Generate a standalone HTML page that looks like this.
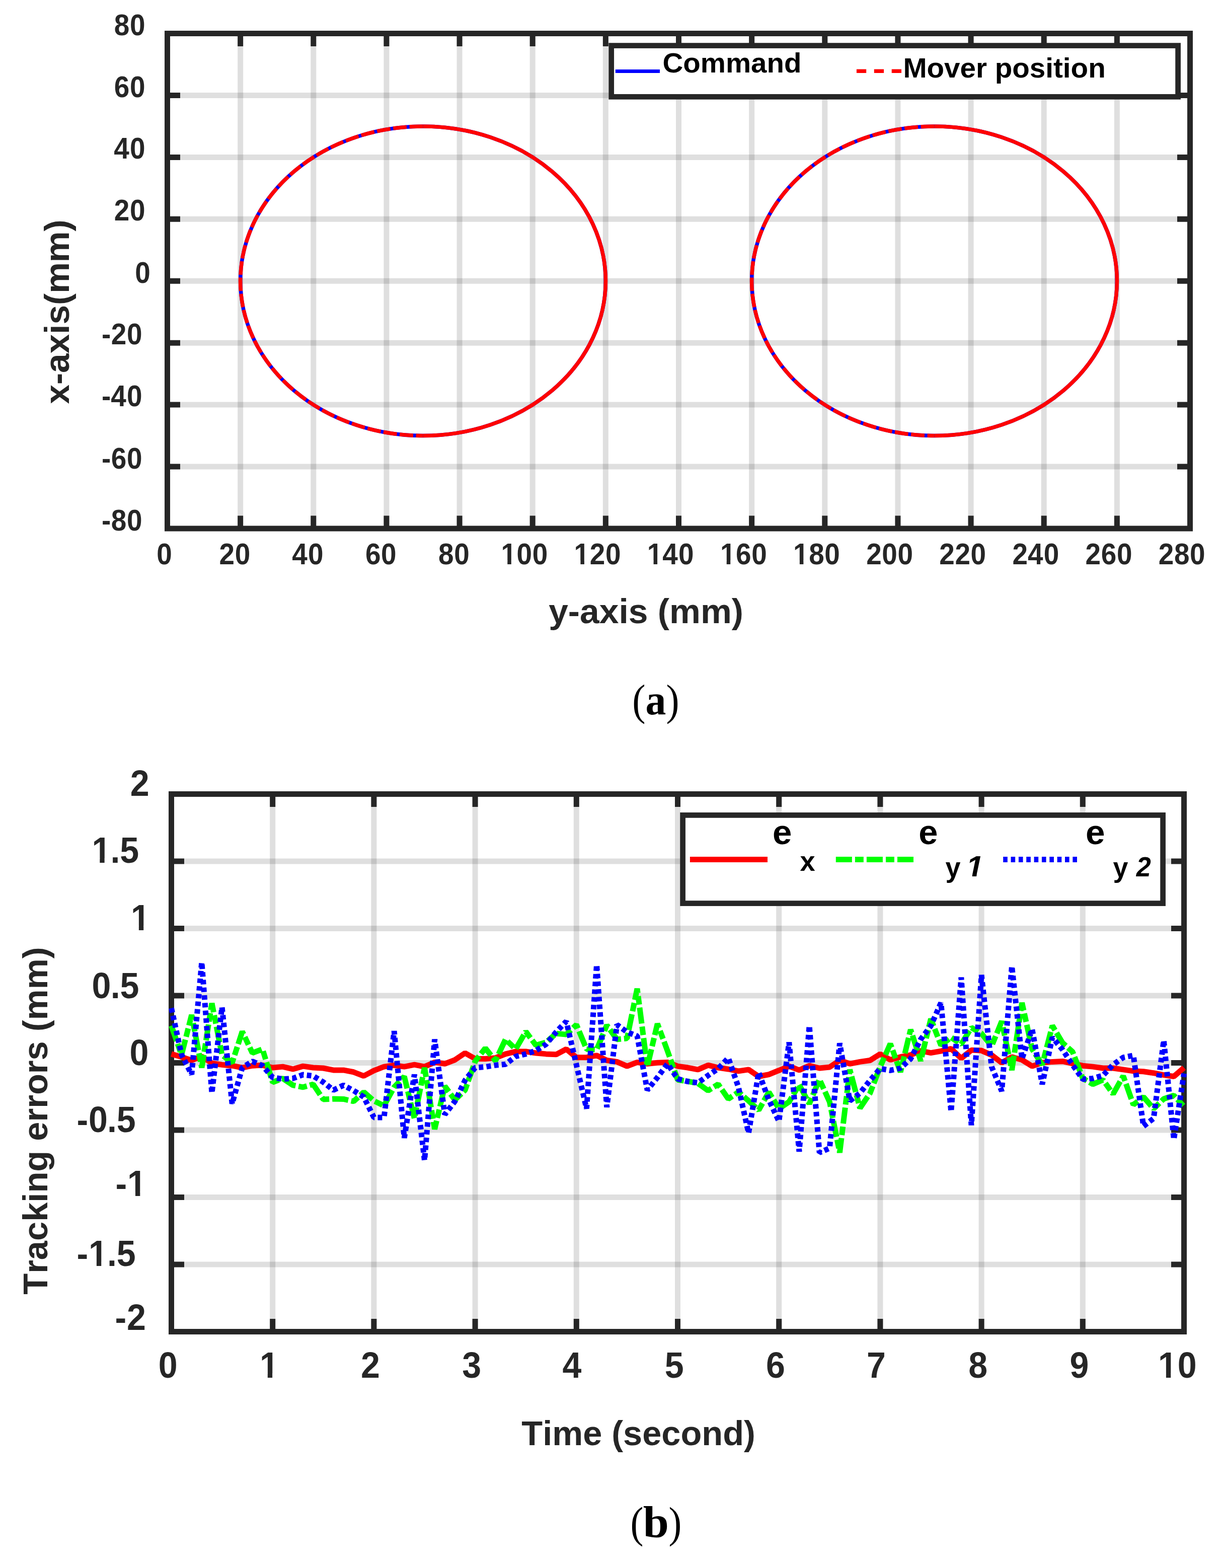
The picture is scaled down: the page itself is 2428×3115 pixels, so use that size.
<!DOCTYPE html>
<html lang="en"><head><meta charset="utf-8"><title>Tracking figure</title>
<style>html,body{margin:0;padding:0;background:#fff}svg{display:block}text{font-kerning:none;white-space:pre}.b{font-family:"Liberation Sans",sans-serif;font-weight:bold}.bi{font-family:"Liberation Sans",sans-serif;font-weight:bold;font-style:italic}.s{font-family:"Liberation Serif",serif}.sb{font-family:"Liberation Serif",serif;font-weight:bold}.g{fill:none;stroke:#262626;stroke-opacity:.15;stroke-width:11}.a{fill:none;stroke:#262626;stroke-width:11}.lg{fill:#fff;stroke:#262626;stroke-width:10.7}.c{fill:none;stroke-width:11;stroke-linejoin:bevel}</style></head>
<body>
<svg width="2428" height="3115" viewBox="0 0 2428 3115">
<rect width="2428" height="3115" fill="#fff"/>
<g id="chart-a">
<path class="g" d="M477.64 66.5V1050.0M622.79 66.5V1050.0M767.93 66.5V1050.0M913.07 66.5V1050.0M1058.21 66.5V1050.0M1203.36 66.5V1050.0M1348.5 66.5V1050.0M1493.64 66.5V1050.0M1638.79 66.5V1050.0M1783.93 66.5V1050.0M1929.07 66.5V1050.0M2074.21 66.5V1050.0M2219.36 66.5V1050.0"/>
<path class="g" d="M332.5 189.44H2364.5M332.5 312.38H2364.5M332.5 435.31H2364.5M332.5 558.25H2364.5M332.5 681.19H2364.5M332.5 804.12H2364.5M332.5 927.06H2364.5"/>
<path class="a" d="M477.64 66.5v25.5M477.64 1050.0v-25.5M622.79 66.5v25.5M622.79 1050.0v-25.5M767.93 66.5v25.5M767.93 1050.0v-25.5M913.07 66.5v25.5M913.07 1050.0v-25.5M1058.21 66.5v25.5M1058.21 1050.0v-25.5M1203.36 66.5v25.5M1203.36 1050.0v-25.5M1348.5 66.5v25.5M1348.5 1050.0v-25.5M1493.64 66.5v25.5M1493.64 1050.0v-25.5M1638.79 66.5v25.5M1638.79 1050.0v-25.5M1783.93 66.5v25.5M1783.93 1050.0v-25.5M1929.07 66.5v25.5M1929.07 1050.0v-25.5M2074.21 66.5v25.5M2074.21 1050.0v-25.5M2219.36 66.5v25.5M2219.36 1050.0v-25.5M332.5 189.44h25.5M2364.5 189.44h-25.5M332.5 312.38h25.5M2364.5 312.38h-25.5M332.5 435.31h25.5M2364.5 435.31h-25.5M332.5 558.25h25.5M2364.5 558.25h-25.5M332.5 681.19h25.5M2364.5 681.19h-25.5M332.5 804.12h25.5M2364.5 804.12h-25.5M332.5 927.06h25.5M2364.5 927.06h-25.5"/>
<rect class="a" x="332.5" y="66.5" width="2032.0" height="983.5"/>
<text class="b" transform="translate(226.76 70) scale(0.9245 1)" font-size="59.36" letter-spacing="0.674" fill="#262626">80</text>
<text class="b" transform="translate(226.76 192.64) scale(0.9245 1)" font-size="59.36" letter-spacing="0.674" fill="#262626">60</text>
<text class="b" transform="translate(226.76 315.27) scale(0.9245 1)" font-size="59.36" letter-spacing="0.674" fill="#262626" dx="-0.61 0.61">40</text>
<text class="b" transform="translate(226.76 437.81) scale(0.9245 1)" font-size="59.36" letter-spacing="0.674" fill="#262626">20</text>
<text class="b" transform="translate(268.18 561.75) scale(0.9245 1)" font-size="59.36" letter-spacing="0.674" fill="#262626">0</text>
<text class="b" transform="translate(201.95 683.69) scale(0.9245 1)" font-size="59.36" letter-spacing="0.674" fill="#262626">-20</text>
<text class="b" transform="translate(201.95 806.62) scale(0.9245 1)" font-size="59.36" letter-spacing="0.674" fill="#262626" dx="0 -0.61 0.61">-40</text>
<text class="b" transform="translate(201.95 930.96) scale(0.9245 1)" font-size="59.36" letter-spacing="0.674" fill="#262626">-60</text>
<text class="b" transform="translate(201.95 1054) scale(0.9245 1)" font-size="59.36" letter-spacing="0.674" fill="#262626">-80</text>
<text class="b" transform="translate(311.19 1120.6) scale(0.9245 1)" font-size="59.36" letter-spacing="0.674" fill="#262626">0</text>
<text class="b" transform="translate(435.62 1120.6) scale(0.9245 1)" font-size="59.36" letter-spacing="0.674" fill="#262626">20</text>
<text class="b" transform="translate(580.76 1120.6) scale(0.9245 1)" font-size="59.36" letter-spacing="0.674" fill="#262626" dx="-0.61 0.61">40</text>
<text class="b" transform="translate(725.91 1120.6) scale(0.9245 1)" font-size="59.36" letter-spacing="0.674" fill="#262626">60</text>
<text class="b" transform="translate(871.05 1120.6) scale(0.9245 1)" font-size="59.36" letter-spacing="0.674" fill="#262626">80</text>
<clipPath id="k1"><path d="M-9 -59.36H110.06V-6.86H-9ZM13.85 -7.66H22V9H13.85ZM33.69 -7.66H67.37V17.81H33.69ZM67.37 -7.66H101.06V17.81H67.37Z"/></clipPath>
<text class="b" transform="translate(995.48 1120.6) scale(0.9245 1)" font-size="59.36" letter-spacing="0.674" fill="#262626" clip-path="url(#k1)">100</text>
<clipPath id="k2"><path d="M-9 -59.36H110.06V-6.86H-9ZM13.85 -7.66H22V9H13.85ZM33.69 -7.66H67.37V17.81H33.69ZM67.37 -7.66H101.06V17.81H67.37Z"/></clipPath>
<text class="b" transform="translate(1140.62 1120.6) scale(0.9245 1)" font-size="59.36" letter-spacing="0.674" fill="#262626" clip-path="url(#k2)">120</text>
<clipPath id="k3"><path d="M-9 -59.36H110.06V-6.86H-9ZM13.85 -7.66H22V9H13.85ZM33.69 -7.66H67.37V17.81H33.69ZM67.37 -7.66H101.06V17.81H67.37Z"/></clipPath>
<text class="b" transform="translate(1285.77 1120.6) scale(0.9245 1)" font-size="59.36" letter-spacing="0.674" fill="#262626" clip-path="url(#k3)" dx="0 -0.61 0.61">140</text>
<clipPath id="k4"><path d="M-9 -59.36H110.06V-6.86H-9ZM13.85 -7.66H22V9H13.85ZM33.69 -7.66H67.37V17.81H33.69ZM67.37 -7.66H101.06V17.81H67.37Z"/></clipPath>
<text class="b" transform="translate(1430.91 1120.6) scale(0.9245 1)" font-size="59.36" letter-spacing="0.674" fill="#262626" clip-path="url(#k4)">160</text>
<clipPath id="k5"><path d="M-9 -59.36H110.06V-6.86H-9ZM13.85 -7.66H22V9H13.85ZM33.69 -7.66H67.37V17.81H33.69ZM67.37 -7.66H101.06V17.81H67.37Z"/></clipPath>
<text class="b" transform="translate(1576.05 1120.6) scale(0.9245 1)" font-size="59.36" letter-spacing="0.674" fill="#262626" clip-path="url(#k5)">180</text>
<text class="b" transform="translate(1721.2 1120.6) scale(0.9245 1)" font-size="59.36" letter-spacing="0.674" fill="#262626">200</text>
<text class="b" transform="translate(1866.34 1120.6) scale(0.9245 1)" font-size="59.36" letter-spacing="0.674" fill="#262626">220</text>
<text class="b" transform="translate(2011.48 1120.6) scale(0.9245 1)" font-size="59.36" letter-spacing="0.674" fill="#262626" dx="0 -0.61 0.61">240</text>
<text class="b" transform="translate(2156.62 1120.6) scale(0.9245 1)" font-size="59.36" letter-spacing="0.674" fill="#262626">260</text>
<text class="b" transform="translate(2301.77 1120.6) scale(0.9245 1)" font-size="59.36" letter-spacing="0.674" fill="#262626">280</text>
<ellipse cx="840.5" cy="558.25" rx="362.86" ry="307.34" fill="none" stroke="#00f" stroke-width="7.5"/>
<path d="M840.5 250.91A362.86 307.34 0 0 1 840.5 865.59" fill="none" stroke="#f00" stroke-width="7.5"/>
<path d="M840.5 250.91A362.86 307.34 0 0 0 840.5 865.59" fill="none" stroke="#f00" stroke-width="7.5" stroke-dasharray="27 5.5"/>
<ellipse cx="1856.5" cy="558.25" rx="362.86" ry="307.34" fill="none" stroke="#00f" stroke-width="7.5"/>
<path d="M1856.5 250.91A362.86 307.34 0 0 1 1856.5 865.59" fill="none" stroke="#f00" stroke-width="7.5"/>
<path d="M1856.5 250.91A362.86 307.34 0 0 0 1856.5 865.59" fill="none" stroke="#f00" stroke-width="7.5" stroke-dasharray="27 5.5"/>
<rect class="lg" x="1214.7" y="90.6" width="1125.9" height="101.7"/>
<path d="M1222.8 141.5H1311" stroke="#00f" stroke-width="7" fill="none"/>
<path d="M1701.9 141.2H1791" stroke="#f00" stroke-width="7.4" stroke-dasharray="19.3 15.6" fill="none"/>
<text class="b" transform="translate(1316.59 144) scale(1.0147 1)" font-size="55.6" fill="#000">Command</text>
<text class="b" transform="translate(1794.41 154) scale(1.0177 1)" font-size="55.6" fill="#000">Mover position</text>
<text class="b" transform="translate(1090.16 1237.7) scale(1.0146 1)" font-size="68.6" fill="#262626">y-axis (mm)</text>
<text class="b" transform="translate(136.8 802.57) rotate(-90) scale(1.0109 1)" font-size="68.6" fill="#262626">x-axis(mm)</text>
</g>
<text class="s" transform="translate(1256.33 1419.71) scale(0.9200 1)" font-size="85.91" fill="#000">(</text>
<text class="sb" transform="translate(1282.47 1419.16) scale(0.9550 1)" font-size="85.59" fill="#000">a</text>
<text class="s" transform="translate(1323.58 1419.71) scale(0.9109 1)" font-size="85.91" fill="#000">)</text>
<g id="chart-b">
<path class="g" d="M541.7 1577.5V2645.5M742.9 1577.5V2645.5M944.1 1577.5V2645.5M1145.3 1577.5V2645.5M1346.5 1577.5V2645.5M1547.7 1577.5V2645.5M1748.9 1577.5V2645.5M1950.1 1577.5V2645.5M2151.3 1577.5V2645.5"/>
<path class="g" d="M340.5 1711H2352.5M340.5 1844.5H2352.5M340.5 1978H2352.5M340.5 2111.5H2352.5M340.5 2245H2352.5M340.5 2378.5H2352.5M340.5 2512H2352.5"/>
<path class="a" d="M541.7 1577.5v25.5M541.7 2645.5v-25.5M742.9 1577.5v25.5M742.9 2645.5v-25.5M944.1 1577.5v25.5M944.1 2645.5v-25.5M1145.3 1577.5v25.5M1145.3 2645.5v-25.5M1346.5 1577.5v25.5M1346.5 2645.5v-25.5M1547.7 1577.5v25.5M1547.7 2645.5v-25.5M1748.9 1577.5v25.5M1748.9 2645.5v-25.5M1950.1 1577.5v25.5M1950.1 2645.5v-25.5M2151.3 1577.5v25.5M2151.3 2645.5v-25.5M340.5 1711h25.5M2352.5 1711h-25.5M340.5 1844.5h25.5M2352.5 1844.5h-25.5M340.5 1978h25.5M2352.5 1978h-25.5M340.5 2111.5h25.5M2352.5 2111.5h-25.5M340.5 2245h25.5M2352.5 2245h-25.5M340.5 2378.5h25.5M2352.5 2378.5h-25.5M340.5 2512h25.5M2352.5 2512h-25.5"/>
<rect class="a" x="340.5" y="1577.5" width="2012.0" height="1068.0"/>
<text class="b" transform="translate(258.79 1580.8) scale(0.9469 1)" font-size="71.93" letter-spacing="0.816" fill="#262626">2</text>
<clipPath id="k6"><path d="M-9 -71.93H111.45V-8.14H-9ZM16.79 -8.94H26.66V9H16.79ZM40.82 -8.94H61.62V21.58H40.82ZM61.62 -8.94H102.45V21.58H61.62Z"/></clipPath>
<text class="b" transform="translate(182.4 1713.7) scale(0.9469 1)" font-size="71.93" letter-spacing="0.816" fill="#262626" clip-path="url(#k6)" dx="0 -1.69 -0.95">1.5</text>
<clipPath id="k7"><path d="M-9 -71.93H49.82V-8.14H-9ZM16.79 -8.94H26.66V9H16.79Z"/></clipPath>
<text class="b" transform="translate(259.99 1847.5) scale(0.9469 1)" font-size="71.93" letter-spacing="0.816" fill="#262626" clip-path="url(#k7)">1</text>
<text class="b" transform="translate(182.6 1982.5) scale(0.9469 1)" font-size="71.93" letter-spacing="0.816" fill="#262626" dx="0 -1.69 -0.95">0.5</text>
<text class="b" transform="translate(257.59 2116.4) scale(0.9469 1)" font-size="71.93" letter-spacing="0.816" fill="#262626">0</text>
<text class="b" transform="translate(152.52 2249.2) scale(0.9469 1)" font-size="71.93" letter-spacing="0.816" fill="#262626" dx="0 0 -1.69 -0.95">-0.5</text>
<clipPath id="k8"><path d="M-9 -71.93H74.59V-8.14H-9ZM0 -8.94H24.77V21.58H0ZM41.56 -8.94H51.43V9H41.56Z"/></clipPath>
<text class="b" transform="translate(229.61 2375.6) scale(0.9469 1)" font-size="71.93" letter-spacing="0.816" fill="#262626" clip-path="url(#k8)">-1</text>
<clipPath id="k9"><path d="M-9 -71.93H136.22V-8.14H-9ZM0 -8.94H24.77V21.58H0ZM41.56 -8.94H51.43V9H41.56ZM65.59 -8.94H86.39V21.58H65.59ZM86.39 -8.94H127.22V21.58H86.39Z"/></clipPath>
<text class="b" transform="translate(152.52 2515.1) scale(0.9469 1)" font-size="71.93" letter-spacing="0.816" fill="#262626" clip-path="url(#k9)" dx="0 0 -1.69 -0.95">-1.5</text>
<text class="b" transform="translate(228.61 2642.2) scale(0.9469 1)" font-size="71.93" letter-spacing="0.816" fill="#262626">-2</text>
<text class="b" transform="translate(314.7 2736.7) scale(0.9469 1)" font-size="71.93" letter-spacing="0.816" fill="#262626">0</text>
<clipPath id="k10"><path d="M-9 -71.93H49.82V-8.14H-9ZM16.79 -8.94H26.66V9H16.79Z"/></clipPath>
<text class="b" transform="translate(515.9 2736.7) scale(0.9469 1)" font-size="71.93" letter-spacing="0.816" fill="#262626" clip-path="url(#k10)">1</text>
<text class="b" transform="translate(717.1 2736.7) scale(0.9469 1)" font-size="71.93" letter-spacing="0.816" fill="#262626">2</text>
<text class="b" transform="translate(918.3 2736.7) scale(0.9469 1)" font-size="71.93" letter-spacing="0.816" fill="#262626">3</text>
<text class="b" transform="translate(1119.5 2736.7) scale(0.9469 1)" font-size="71.93" letter-spacing="0.816" fill="#262626" dx="-2.11">4</text>
<text class="b" transform="translate(1320.7 2736.7) scale(0.9469 1)" font-size="71.93" letter-spacing="0.816" fill="#262626">5</text>
<text class="b" transform="translate(1521.9 2736.7) scale(0.9469 1)" font-size="71.93" letter-spacing="0.816" fill="#262626">6</text>
<text class="b" transform="translate(1723.1 2736.7) scale(0.9469 1)" font-size="71.93" letter-spacing="0.816" fill="#262626" dx="-1.06">7</text>
<text class="b" transform="translate(1924.3 2736.7) scale(0.9469 1)" font-size="71.93" letter-spacing="0.816" fill="#262626">8</text>
<text class="b" transform="translate(2125.5 2736.7) scale(0.9469 1)" font-size="71.93" letter-spacing="0.816" fill="#262626">9</text>
<clipPath id="k11"><path d="M-9 -71.93H90.64V-8.14H-9ZM16.79 -8.94H26.66V9H16.79ZM40.82 -8.94H81.64V21.58H40.82Z"/></clipPath>
<text class="b" transform="translate(2300.99 2736.7) scale(0.9469 1)" font-size="71.93" letter-spacing="0.816" fill="#262626" clip-path="url(#k11)">10</text>
<path class="c" d="M340.5 2093.89L360.62 2099.71L380.74 2106.49L400.86 2098.74L420.98 2112.31L441.1 2115.22L461.22 2117.16L481.34 2121.03L501.46 2117.16L521.58 2116.19L541.7 2121.03L561.82 2119.1L581.94 2123.94L602.06 2118.13L622.18 2121.03L642.3 2122L662.42 2125.88L682.54 2125.88L702.66 2129.76L722.78 2137.51L742.9 2126.85L763.02 2119.1L783.14 2116.19L803.26 2119.1L823.38 2115.22L843.5 2119.1L863.62 2110.37L883.74 2113.28L903.86 2105.52L923.98 2091.95L944.1 2103.2L964.22 2103.58L984.34 2101.65L1004.46 2093.89L1024.58 2089.04L1044.7 2089.04L1064.82 2091.95L1084.94 2093.89L1105.06 2094.86L1125.18 2084.2L1145.3 2100.68L1165.42 2100.68L1185.54 2096.8L1205.66 2106.49L1225.78 2109.4L1245.9 2118.13L1266.02 2110.37L1286.14 2113.28L1306.26 2111.34L1326.38 2110.37L1346.5 2118.13L1366.62 2121.03L1386.74 2124.91L1406.86 2116.19L1426.98 2121.03L1447.1 2123.94L1467.22 2127.82L1487.34 2124.91L1507.46 2138.48L1527.58 2134.61L1547.7 2126.46L1567.82 2118.13L1587.94 2125.88L1608.06 2117.16L1628.18 2122L1648.3 2120.06L1668.42 2106.49L1688.54 2113.28L1708.66 2109.4L1728.78 2106.49L1748.9 2093.89L1769.02 2105.52L1789.14 2099.71L1809.26 2095.83L1829.38 2087.69L1849.5 2091.56L1869.62 2088.07L1889.74 2083.23L1909.86 2102.61L1929.98 2086.13L1950.1 2087.1L1970.22 2095.83L1990.34 2111.34L2010.46 2099.71L2030.58 2105.52L2050.7 2118.13L2070.82 2111.34L2090.94 2109.4L2111.06 2108.43L2131.18 2112.89L2151.3 2117.16L2171.42 2119.1L2191.54 2122L2211.66 2122L2231.78 2124.91L2251.9 2127.82L2272.02 2128.79L2292.14 2131.7L2312.26 2135.58L2332.38 2138.48L2352.5 2121.03" stroke="#f00"/>
<path class="c" d="M340.5 2037.66L360.62 2095.83L380.74 2016.33L400.86 2121.03L420.98 1993.07L441.1 2095.83L461.22 2111.34L481.34 2049.29L501.46 2091.95L521.58 2084.2L541.7 2150.12L561.82 2142.36L581.94 2155.93L602.06 2159.81L622.18 2154L642.3 2184.05L662.42 2183.08L682.54 2183.47L702.66 2187.93L722.78 2169.51L742.9 2186.96L763.02 2196.65L783.14 2159.81L803.26 2138.48L823.38 2221.86L843.5 2121.03L863.62 2243.18L883.74 2157.87L903.86 2185.02L923.98 2165.63L944.1 2108.43L964.22 2082.26L984.34 2107.46L1004.46 2064.81L1024.58 2084.2L1044.7 2049.29L1064.82 2076.44L1084.94 2070.62L1105.06 2053.17L1125.18 2055.11L1145.3 2035.72L1165.42 2084.2L1185.54 2085.16L1205.66 2036.69L1225.78 2064.81L1245.9 2062.87L1266.02 1963.98L1286.14 2119.1L1306.26 2033.78L1326.38 2088.07L1346.5 2145.27L1366.62 2148.18L1386.74 2152.06L1406.86 2166.6L1426.98 2154L1447.1 2183.08L1467.22 2169.51L1487.34 2186.96L1507.46 2205.38L1527.58 2169.51L1547.7 2202.47L1567.82 2188.9L1587.94 2154.96L1608.06 2192.77L1628.18 2144.3L1648.3 2188.9L1668.42 2289.72L1688.54 2124.91L1708.66 2201.5L1728.78 2171.45L1748.9 2119.1L1769.02 2073.53L1789.14 2129.76L1809.26 2045.42L1829.38 2107.46L1849.5 2024.09L1869.62 2076.44L1889.74 2060.93L1909.86 2074.5L1929.98 2041.54L1950.1 2053.17L1970.22 2078.38L1990.34 2028.94L2010.46 2125.88L2030.58 1992.1L2050.7 2084.2L2070.82 2115.22L2090.94 2037.66L2111.06 2071.59L2131.18 2089.62L2151.3 2142.36L2171.42 2154L2191.54 2145.27L2211.66 2173.38L2231.78 2137.51L2251.9 2194.71L2272.02 2179.2L2292.14 2202.47L2312.26 2183.08L2332.38 2176.29L2352.5 2198.59" stroke="#0f0" stroke-dasharray="32 6 17 6"/>
<path class="c" d="M340.5 2002.76L360.62 2094.86L380.74 2134.61L400.86 1911.63L420.98 2171.45L441.1 2000.82L461.22 2192.77L481.34 2121.03L501.46 2108.43L521.58 2117.16L541.7 2140.42L561.82 2143.72L581.94 2142.36L602.06 2134.99L622.18 2137.51L642.3 2149.73L662.42 2165.63L682.54 2155.93L702.66 2166.6L722.78 2179.2L742.9 2219.92L763.02 2219.92L783.14 2048.33L803.26 2260.63L823.38 2134.61L843.5 2305.23L863.62 2064.81L883.74 2214.1L903.86 2187.93L923.98 2146.24L944.1 2121.03L964.22 2119.48L984.34 2116.19L1004.46 2114.25L1024.58 2098.74L1044.7 2093.89L1064.82 2087.1L1084.94 2074.5L1105.06 2050.26L1125.18 2028.94L1145.3 2115.61L1165.42 2202.47L1185.54 1916.48L1205.66 2199.56L1225.78 2035.72L1245.9 2050.26L1266.02 2058.02L1286.14 2165.63L1306.26 2140.42L1326.38 2113.28L1346.5 2143.33L1366.62 2148.57L1386.74 2151.09L1406.86 2136.55L1426.98 2122.97L1447.1 2101.65L1467.22 2159.81L1487.34 2250.94L1507.46 2130.73L1527.58 2185.02L1547.7 2227.67L1567.82 2070.62L1587.94 2287.78L1608.06 2037.66L1628.18 2289.72L1648.3 2280.99L1668.42 2072.56L1688.54 2186.96L1708.66 2171.45L1728.78 2146.24L1748.9 2122.97L1769.02 2126.46L1789.14 2122L1809.26 2103.58L1829.38 2064.81L1849.5 2038.05L1869.62 1992.1L1889.74 2208.28L1909.86 1941.69L1929.98 2235.43L1950.1 1936.84L1970.22 2119.1L1990.34 2167.57L2010.46 1919.39L2030.58 2103.58L2050.7 2044.45L2070.82 2154L2090.94 2060.93L2111.06 2085.16L2131.18 2115.61L2151.3 2143.91L2171.42 2142.36L2191.54 2136.55L2211.66 2115.22L2231.78 2100.68L2251.9 2096.8L2272.02 2237.37L2292.14 2221.86L2312.26 2066.75L2332.38 2263.54L2352.5 2132.67" stroke="#00f" stroke-dasharray="9 6.3"/>
<rect class="lg" x="1356.6" y="1619.4" width="954" height="175.2"/>
<path class="c" d="M1370.9 1707.5H1525" stroke="#f00"/>
<path class="c" d="M1660.8 1707.5H1815.2" stroke="#0f0" stroke-dasharray="32 6.1 16.9 6.1"/>
<path class="c" d="M1993.2 1707.5H2140" stroke="#00f" stroke-dasharray="8.6 6.75"/>
<text class="b" transform="translate(1535.11 1677.2) scale(0.9936 1)" font-size="69.4" fill="#000">e</text>
<text class="b" transform="translate(1825.22 1677.2) scale(0.9876 1)" font-size="69.4" fill="#000">e</text>
<text class="b" transform="translate(2157 1677.2) scale(0.9966 1)" font-size="69.4" fill="#000">e</text>
<text class="b" transform="translate(1589.43 1730) scale(0.9845 1)" font-size="55.1" fill="#000">x</text>
<text class="b" transform="translate(1878.48 1741.6) scale(0.9794 1)" font-size="55.1" fill="#000">y</text>
<clipPath id="k12"><path d="M-9 -56.69H56.69V-7.19H-9ZM11.79 -7.99L19.57 -7.99L18.3 2L10.52 2Z"/></clipPath>
<text class="bi" transform="translate(1919.84 1740.9) scale(1.0945 1)" font-size="56.69" fill="#000" clip-path="url(#k12)">1</text>
<text class="b" transform="translate(2211.48 1741.6) scale(0.9760 1)" font-size="55.1" fill="#000">y</text>
<text class="bi" transform="translate(2257.72 1741.1) scale(0.9294 1)" font-size="56.14" fill="#000">2</text>
<text class="b" transform="translate(1036.33 2871.1) scale(0.9961 1)" font-size="68.8" fill="#262626">Time (second)</text>
<text class="b" transform="translate(94.05 2571.77) rotate(-90) scale(1.0005 1)" font-size="68.6" fill="#262626">Tracking errors (mm)</text>
</g>
<text class="s" transform="translate(1252.38 3053.59) scale(0.9052 1)" font-size="86.02" fill="#000">(</text>
<text class="sb" transform="translate(1277.73 3054.12) scale(1.0265 1)" font-size="89.68" fill="#000">b</text>
<text class="s" transform="translate(1328.6 3053.59) scale(0.9007 1)" font-size="86.02" fill="#000">)</text>
</svg>
</body></html>
